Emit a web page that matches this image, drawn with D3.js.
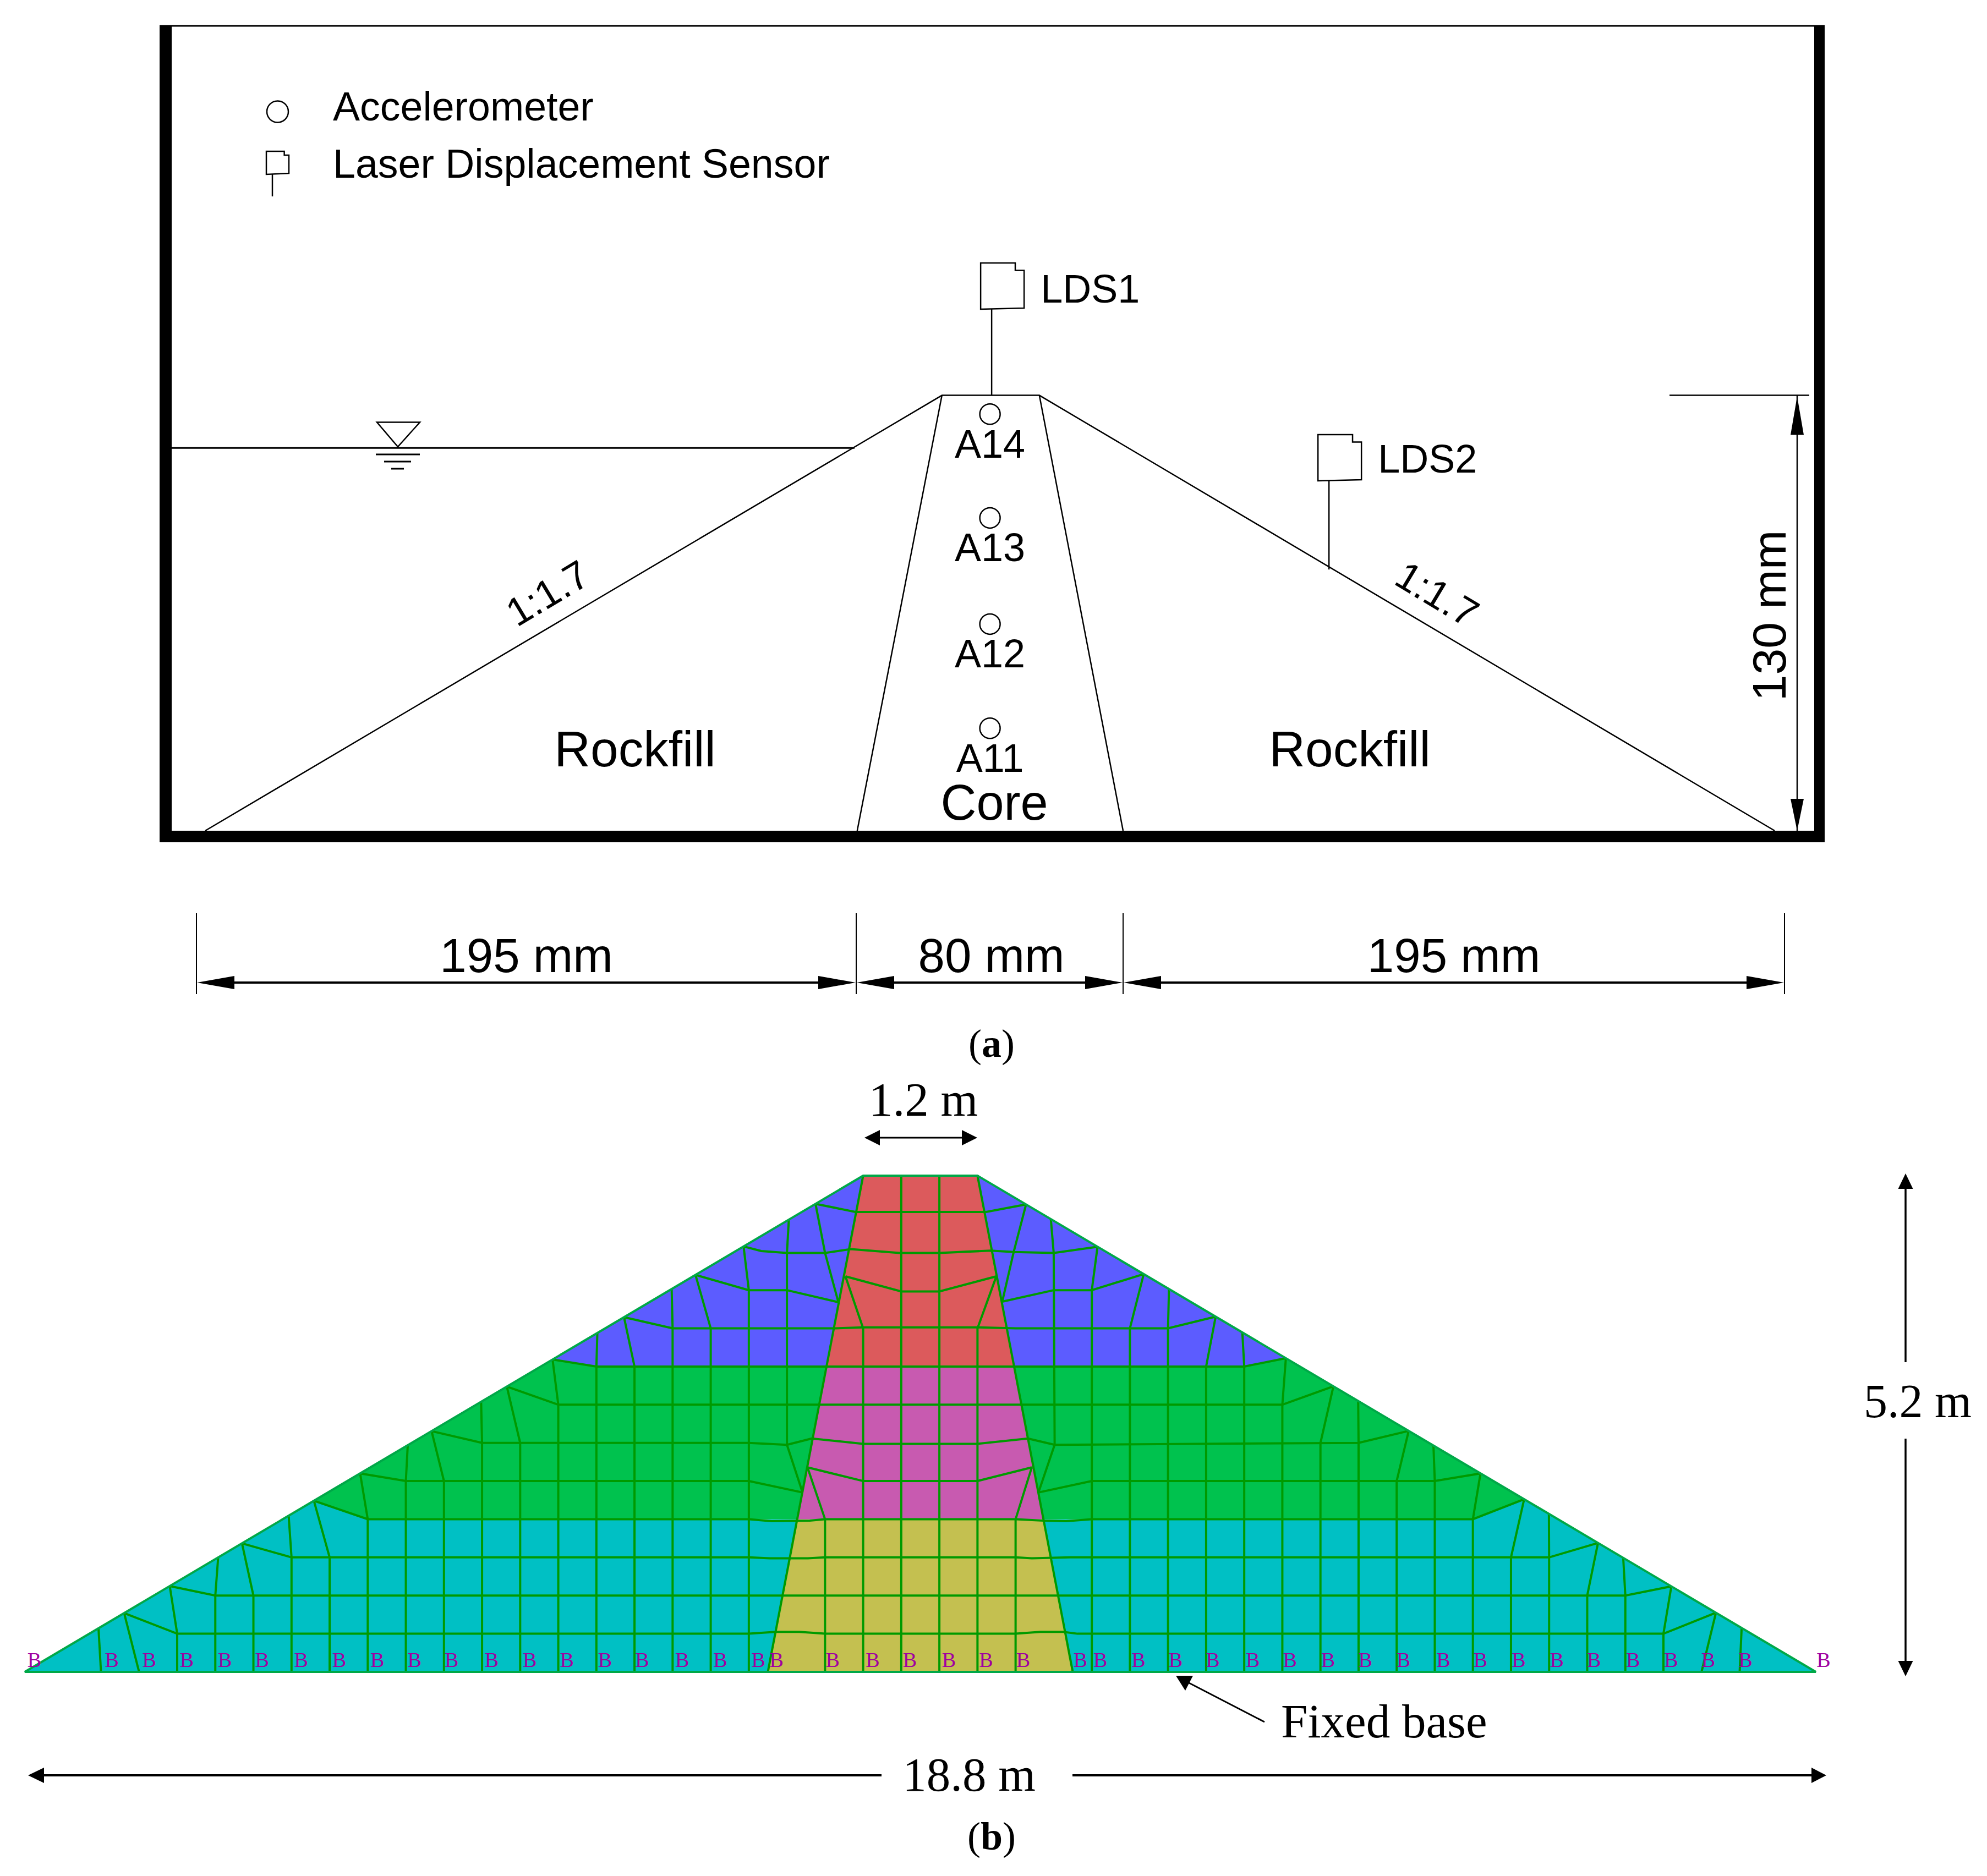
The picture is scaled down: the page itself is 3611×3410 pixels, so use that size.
<!DOCTYPE html>
<html>
<head>
<meta charset="utf-8">
<script src="https://cdn.jsdelivr.net/npm/d3@7"></script>
<style>
  html, body { margin: 0; background: #fff; }
  svg { display: block; }
  .sans { font-family: "Liberation Sans", Arial, sans-serif; fill: #000; }
  .serif { font-family: "Liberation Serif", "Times New Roman", serif; fill: #000; }
</style>
</head>
<body>
<svg id="chart" width="3611" height="3410"></svg>
<script>
// ── Panel (a): physical model, millimetres ──────────────────────────────────
const dimTicks = [0, 195, 275, 470];
const dimLabels = ['195 mm', '80 mm', '195 mm'];
const damHeight = 130;
const crestX = [220.7, 249.9];
const toeX = [2.6, 467.1];
const coreBaseX = [195.3, 275];
const waterLevel = 114.3;
const waterEndX = 194.5;
const accelNames = ['A14', 'A13', 'A12', 'A11'];
const accelX = 235.1;
const accelH = [124.4, 93.4, 61.7, 30.6];
const sensorNames = ['LDS1', 'LDS2'];
const sensorX = [235.6, 335.7];
const sensorFootH = [130, 78];
const legendNames = ['Accelerometer', 'Laser Displacement Sensor'];

// ── Panel (b): numerical mesh, metres ───────────────────────────────────────
const meshWidth = 18.8;
const meshHeight = 5.2;
const crestM = [8.8, 10.0];
const coreBaseM = [7.8, 11.0];

// Columns in the shells: x, height where it leaves the grid, x of slope node
const leftColX = [0.8, 1.2, 1.6, 2.0, 2.4, 2.8, 3.2, 3.6, 4.0, 4.4, 4.8, 5.2, 5.6, 6.0, 6.4, 6.8, 7.2, 7.6, 11.2, 11.6, 12.0, 12.4, 12.8, 13.2, 13.6, 14.0, 14.4, 14.8, 15.2, 15.6, 16.0, 16.4, 16.8, 17.2, 17.6, 18.0];
const colKinkH = [0, 0, 0.4, 0.8, 0.8, 1.2, 1.2, 1.6, 2.0, 2.0, 2.4, 2.4, 2.8, 3.2, 3.2, 3.6, 3.6, 4.0, 4.0, 3.6, 3.6, 3.2, 3.2, 2.8, 2.4, 2.4, 2.0, 2.0, 1.6, 1.2, 1.2, 0.8, 0.8, 0.4, 0, 0];
const colNodeX = [0.774, 1.043, 1.522, 2.03, 2.28, 2.77, 3.035, 3.52, 4.02, 4.27, 4.79, 5.06, 5.54, 6.01, 6.29, 6.79, 7.04, 7.545, 11.26, 11.745, 12.01, 12.5, 12.78, 13.237, 13.736, 13.996, 14.526, 14.786, 15.28, 15.738, 15.998, 16.513, 16.778, 17.283, 17.751, 18.021];

// Interior lines around the core: [x, height]
const innerLines = [
  [[8.0, 2.38], [8.0, 4.39]],
  [[8.164, 1.88], [8.0, 2.38]],
  [[8.4, 0], [8.4, 1.6], [8.216, 2.143]],
  [[8.4, 4.39], [8.54, 3.874]],
  [[8.8, 0], [8.8, 3.6], [8.614, 4.145]],
  [[9.2, 0], [9.2, 5.2]],
  [[9.6, 0], [9.6, 5.2]],
  [[10.0, 0], [10.0, 3.6], [10.198, 4.145]],
  [[10.4, 0], [10.4, 1.6], [10.57, 2.143]],
  [[10.38, 4.4], [10.26, 3.88]],
  [[10.64, 1.88], [10.81, 2.38], [10.8, 4.39]]
];
const slopeTies = [
  [8.02, [8.0, 4.39]],
  [8.3, [8.4, 4.39]],
  [10.51, [10.38, 4.4]],
  [10.77, [10.8, 4.39]]
];

// Rows: x of slope node at each end (null when the row stops inside) and points
const rowLeftNode = [1.043, 1.522, 2.28, 3.035, 3.52, 4.27, 5.06, 5.54, 6.29, 7.04, 7.545, 8.3];
const rowRightNode = [17.751, 17.283, 16.513, 15.738, null, 14.526, 13.736, 13.237, 12.5, null, 11.26, 10.51];
const rowPoints = [
  [[1.6, 0.4], [7.6, 0.4], [7.73, 0.41], [7.88, 0.42], [8.13, 0.42], [8.4, 0.4], [10.4, 0.4], [10.66, 0.42], [10.9, 0.42], [11.05, 0.4], [17.2, 0.4]],
  [[2.0, 0.8], [16.8, 0.8]],
  [[2.8, 1.2], [7.6, 1.2], [7.82, 1.19], [8.22, 1.19], [8.4, 1.2], [10.4, 1.2], [10.57, 1.19], [10.97, 1.2], [16.0, 1.2]],
  [[3.6, 1.6], [7.6, 1.6], [7.84, 1.58], [8.24, 1.585], [8.4, 1.6], [10.4, 1.6], [10.69, 1.585], [10.93, 1.58], [11.2, 1.6], [15.2, 1.6]],
  [[4.0, 2.0], [7.6, 2.0], [8.164, 1.88]],
  [[4.8, 2.4], [7.6, 2.4], [8.0, 2.38], [8.26, 2.446], [8.8, 2.39], [10.0, 2.39], [10.53, 2.446], [10.81, 2.38], [14.0, 2.4]],
  [[5.6, 2.8], [13.2, 2.8]],
  [[6.0, 3.2], [12.8, 3.2]],
  [[6.8, 3.6], [8.5, 3.6], [8.8, 3.61], [10.0, 3.61], [10.4, 3.6], [12.0, 3.6]],
  [[7.6, 4.0], [8.0, 4.0], [8.54, 3.874]],
  [[7.73, 4.41], [8.0, 4.39], [8.4, 4.39], [8.67, 4.43], [9.18, 4.39], [9.6, 4.39], [10.14, 4.415], [10.38, 4.4], [10.8, 4.39]],
  [[8.72, 4.82], [10.09, 4.82]]
];
const extraRows = [
  [[8.216, 2.143], [8.8, 2.0], [10.0, 2.0], [10.57, 2.143]],
  [[10.64, 1.88], [11.2, 2.0], [14.8, 2.0]],
  [[8.614, 4.145], [9.2, 3.987], [9.6, 3.987], [10.198, 4.145]],
  [[10.26, 3.88], [10.8, 4.0], [11.2, 4.0]]
];
const extraRowTies = [[15.28, [14.8, 2.0]], [11.745, [11.2, 4.0]]];

const zoneNames = ['base', 'middle', 'top', 'coreBase', 'coreMiddle', 'coreTop'];
const zoneColors = ['#00c0c4', '#00c24e', '#5c5cff', '#c4c050', '#c85ab0', '#dc5a5c'];
const boundaryLabelX = [0.1, 0.913, 1.306, 1.7, 2.1, 2.49, 2.9, 3.3, 3.7, 4.09, 4.48, 4.9, 5.3, 5.69, 6.09, 6.48, 6.9, 7.3, 7.7, 7.89, 8.48, 8.9, 9.29, 9.7, 10.09, 10.48, 11.08, 11.29, 11.69, 12.08, 12.47, 12.89, 13.28, 13.68, 14.07, 14.47, 14.89, 15.28, 15.68, 16.08, 16.47, 16.88, 17.28, 17.67, 18.06, 18.88];

const svg = d3.select('#chart');

// Scales
const xMm = d3.scaleLinear().domain(dimTicks).range([357, 1556, 2041, 3243]);
const yMm = d3.scaleLinear().domain([0, damHeight]).range([1510, 718.6]);
const xM = d3.scaleLinear().domain([0, meshWidth]).range([45, 3300]);
const yM = d3.scaleLinear().domain([0, meshHeight]).range([3039, 2137]);

const slopeLeft = d3.scaleLinear().domain([0, crestM[0]]).range([0, meshHeight]);
const slopeRight = d3.scaleLinear().domain([crestM[1], meshWidth]).range([meshHeight, 0]);
const coreLeft = d3.scaleLinear().domain([0, meshHeight]).range([coreBaseM[0], crestM[0]]);
const coreRight = d3.scaleLinear().domain([0, meshHeight]).range([coreBaseM[1], crestM[1]]);
const zoneColor = d3.scaleOrdinal().domain(zoneNames).range(zoneColors);

const meshLine = d3.line().x(d => xM(d[0])).y(d => yM(d[1]));
const nodeL = x => [x, slopeLeft(x)];
const nodeR = x => [x, slopeRight(x)];
const node = x => x < 9.4 ? nodeL(x) : nodeR(x);

function arrow(g, tipX, tipY, dx, dy, half) {
  // dx, dy: vector from tip to the base of the head
  const len = Math.hypot(dx, dy);
  const nx = -dy / len * half, ny = dx / len * half;
  g.append('path')
    .attr('d', `M${tipX},${tipY}L${tipX + dx + nx},${tipY + dy + ny}L${tipX + dx - nx},${tipY + dy - ny}Z`)
    .attr('fill', '#000');
}

function hline(g, x1, x2, y, w) {
  g.append('line').attr('x1', x1).attr('x2', x2).attr('y1', y).attr('y2', y)
    .attr('stroke', '#000').attr('stroke-width', w);
}

function vline(g, x, y1, y2, w) {
  g.append('line').attr('x1', x).attr('x2', x).attr('y1', y1).attr('y2', y2)
    .attr('stroke', '#000').attr('stroke-width', w);
}

function sensor(g, x, y, w, h, sw) {
  const n = w * 0.17;
  g.append('path')
    .attr('d', `M${x},${y}H${x + w - n * 1.2}V${y + n}H${x + w}V${y + h - 2}L${x},${y + h}Z`)
    .attr('fill', '#fff').attr('stroke', '#000').attr('stroke-width', sw);
}

function drawPanelA() {
  const g = svg.append('g');

  // Container
  hline(g, 290, 3316, 47, 3);
  g.append('rect').attr('x', 290).attr('y', 46).attr('width', 22).attr('height', 1485).attr('fill', '#000');
  g.append('rect').attr('x', 3297).attr('y', 46).attr('width', 19).attr('height', 1485).attr('fill', '#000');
  g.append('rect').attr('x', 290).attr('y', 1510).attr('width', 3026).attr('height', 21).attr('fill', '#000');

  // Dam outline and core
  const line = d3.line().x(d => xMm(d[0])).y(d => yMm(d[1]));
  const outline = [[toeX[0], 0], [crestX[0], damHeight], [crestX[1], damHeight], [toeX[1], 0]];
  const core = [[coreBaseX[0], 0], [crestX[0], damHeight]];
  const core2 = [[coreBaseX[1], 0], [crestX[1], damHeight]];
  [outline, core, core2].forEach(p => {
    g.append('path').attr('d', line(p)).attr('fill', 'none').attr('stroke', '#000').attr('stroke-width', 2.5);
  });

  // Water level
  hline(g, 312, xMm(waterEndX), yMm(waterLevel), 3);
  g.append('path').attr('d', 'M685,767.5H763L723,812Z').attr('fill', 'none').attr('stroke', '#000').attr('stroke-width', 2.5);
  hline(g, 683, 763, 826, 3);
  hline(g, 698, 747, 839, 3);
  hline(g, 711, 734, 852, 3);

  // Accelerometers
  accelNames.forEach((name, i) => {
    const cy = yMm(accelH[i]);
    g.append('circle').attr('cx', xMm(accelX)).attr('cy', cy).attr('r', 18.5)
      .attr('fill', 'none').attr('stroke', '#000').attr('stroke-width', 2.5);
    g.append('text').attr('class', 'sans').attr('x', xMm(accelX)).attr('y', cy + 79)
      .attr('text-anchor', 'middle').attr('font-size', 72).text(name);
  });

  // Laser sensors
  sensorNames.forEach((name, i) => {
    const sx = xMm(sensorX[i]);
    const top = yMm(sensorFootH[i]);
    const boxTop = i === 0 ? 478 : 790;
    vline(g, sx, boxTop + 84, top, 2.5);
    sensor(g, sx - 20, boxTop, 79, 84, 2.5);
    g.append('text').attr('class', 'sans').attr('x', sx + 89).attr('y', boxTop + 72 - (i === 0 ? 0 : 3))
      .attr('font-size', 72).text(name);
  });

  // Legend
  g.append('circle').attr('cx', 504.5).attr('cy', 203).attr('r', 19.5)
    .attr('fill', 'none').attr('stroke', '#000').attr('stroke-width', 2.5);
  vline(g, 495, 317, 357, 2.5);
  sensor(g, 484, 275, 41, 42, 2.5);
  g.append('text').attr('class', 'sans').attr('x', 605).attr('y', 219).attr('font-size', 73.5).text(legendNames[0]);
  g.append('text').attr('class', 'sans').attr('x', 605).attr('y', 323).attr('font-size', 73.5).text(legendNames[1]);

  // Zone labels
  const label = (x, y, size, text) => g.append('text').attr('class', 'sans')
    .attr('x', x).attr('y', y).attr('text-anchor', 'middle').attr('font-size', size).text(text);
  label(1154, 1393, 91, 'Rockfill');
  label(2453, 1393, 91, 'Rockfill');
  label(1807, 1490, 90, 'Core');

  // Slope ratios
  g.append('text').attr('class', 'sans').attr('text-anchor', 'middle').attr('font-size', 72)
    .attr('transform', 'translate(995,1078) rotate(-31)').attr('dy', '0.35em').text('1:1.7');
  g.append('text').attr('class', 'sans').attr('text-anchor', 'middle').attr('font-size', 72)
    .attr('transform', 'translate(2612,1080) rotate(31)').attr('dy', '0.35em').text('1:1.7');

  // Height dimension
  hline(g, 3034, 3288, yMm(damHeight), 2.5);
  vline(g, 3266, yMm(damHeight), yMm(0), 2.5);
  arrow(g, 3266, yMm(damHeight) + 2, 0, 70, 12);
  arrow(g, 3266, yMm(0), 0, -58, 12);
  g.append('text').attr('class', 'sans').attr('text-anchor', 'middle').attr('font-size', 86)
    .attr('transform', 'translate(3245,1119) rotate(-90)').text('130 mm');

  // Width dimensions
  dimTicks.forEach(t => vline(g, xMm(t), 1660, 1807, 2));
  dimLabels.forEach((text, i) => {
    const x1 = xMm(dimTicks[i]), x2 = xMm(dimTicks[i + 1]);
    hline(g, x1 + 40, x2 - 40, 1786, 4);
    arrow(g, x1 + 1, 1786, 68, 0, 12);
    arrow(g, x2 - 1, 1786, -68, 0, 12);
    g.append('text').attr('class', 'sans').attr('x', (x1 + x2) / 2 + (i === 1 ? 3 : 0)).attr('y', 1767)
      .attr('text-anchor', 'middle').attr('font-size', 87).text(text);
  });

  const cap = g.append('text').attr('class', 'serif').attr('x', 1802).attr('y', 1921)
    .attr('text-anchor', 'middle').attr('font-size', 72);
  cap.append('tspan').text('(');
  cap.append('tspan').attr('font-weight', 'bold').text('a');
  cap.append('tspan').text(')');
}

function drawPanelB() {
  const g = svg.append('g');
  const c = h => [coreLeft(h), h];
  const d = h => [coreRight(h), h];

  // Material zones
  const zones = [
    ['base', [[0, 0], nodeL(3.035), [3.6, 1.6], c(1.6), c(0)]],
    ['middle', [nodeL(3.035), nodeL(5.54), [6.0, 3.2], c(3.2), c(1.6), [3.6, 1.6]]],
    ['top', [nodeL(5.54), [crestM[0], meshHeight], c(3.2), [6.0, 3.2]]],
    ['base', [[meshWidth, 0], nodeR(15.738), [15.2, 1.6], d(1.6), d(0)]],
    ['middle', [nodeR(15.738), nodeR(13.237), [12.8, 3.2], d(3.2), d(1.6), [15.2, 1.6]]],
    ['top', [nodeR(13.237), [crestM[1], meshHeight], d(3.2), [12.8, 3.2]]],
    ['coreBase', [c(0), d(0), d(1.6), c(1.6)]],
    ['coreMiddle', [c(1.6), d(1.6), d(3.2), c(3.2)]],
    ['coreTop', [c(3.2), d(3.2), d(meshHeight), c(meshHeight)]]
  ];
  g.selectAll('path.zone').data(zones).join('path')
    .attr('class', 'zone')
    .attr('d', z => meshLine(z[1]) + 'Z')
    .attr('fill', z => zoneColor(z[0]));

  // Mesh lines
  const lines = [];
  leftColX.forEach((x, i) => {
    const pts = [[x, 0]];
    if (colKinkH[i] > 0) pts.push([x, colKinkH[i]]);
    pts.push(node(colNodeX[i]));
    lines.push(pts);
  });
  innerLines.forEach(p => lines.push(p));
  slopeTies.forEach(t => lines.push([node(t[0]), t[1]]));
  rowPoints.forEach((pts, i) => {
    const right = rowRightNode[i] === null ? [] : [nodeR(rowRightNode[i])];
    lines.push([nodeL(rowLeftNode[i])].concat(pts, right));
  });
  extraRows.forEach(p => lines.push(p));
  extraRowTies.forEach(t => lines.push([node(t[0]), t[1]]));
  // core boundaries
  lines.push([c(0), c(meshHeight)]);
  lines.push([d(0), d(meshHeight)]);

  g.selectAll('path.mesh').data(lines).join('path')
    .attr('class', 'mesh')
    .attr('d', meshLine)
    .attr('fill', 'none')
    .attr('stroke', '#009a00')
    .attr('stroke-width', 4);

  // Outer edge
  const edge = [[0, 0], [crestM[0], meshHeight], [crestM[1], meshHeight], [meshWidth, 0]];
  g.append('path').attr('d', meshLine(edge) + 'Z')
    .attr('fill', 'none').attr('stroke', '#00a848').attr('stroke-width', 4)
    .attr('stroke-linejoin', 'bevel');

  // Fixed-boundary markers
  g.selectAll('text.bc').data(boundaryLabelX).join('text')
    .attr('class', 'bc')
    .attr('x', d => xM(d))
    .attr('y', yM(0) - 9)
    .attr('text-anchor', 'middle')
    .attr('font-family', '"Liberation Serif", serif')
    .attr('font-size', 38)
    .attr('fill', '#a000a0')
    .text('B');

  // Annotations
  const label = (x, y, size, text, anchor) => g.append('text').attr('class', 'serif')
    .attr('x', x).attr('y', y).attr('text-anchor', anchor || 'middle').attr('font-size', size).text(text);

  label(1678, 2028, 87, '1.2 m');
  hline(g, 1590, 1757, 2068, 3);
  arrow(g, 1571, 2068, 28, 0, 14);
  arrow(g, 1776, 2068, -28, 0, 14);

  label(3485, 2576, 86, '5.2 m');
  vline(g, 3463, 2150, 2476, 3.5);
  vline(g, 3463, 2615, 3030, 3.5);
  arrow(g, 3463, 2133, 0, 28, 13.5);
  arrow(g, 3463, 3047, 0, -28, 13.5);

  label(1761, 3255, 87, '18.8 m');
  hline(g, 70, 1602, 3227, 4);
  hline(g, 1949, 3300, 3227, 4);
  arrow(g, 51, 3227, 29, 0, 14);
  arrow(g, 3319, 3227, -27, 0, 14);

  label(2328, 3158, 87, 'Fixed base', 'start');
  g.append('line').attr('x1', 2155).attr('y1', 3056).attr('x2', 2298).attr('y2', 3130)
    .attr('stroke', '#000').attr('stroke-width', 3);
  g.append('path').attr('d', 'M2137,3046L2168,3046L2154,3073Z').attr('fill', '#000');

  const cap = g.append('text').attr('class', 'serif').attr('x', 1802).attr('y', 3362)
    .attr('text-anchor', 'middle').attr('font-size', 72);
  cap.append('tspan').text('(');
  cap.append('tspan').attr('font-weight', 'bold').text('b');
  cap.append('tspan').text(')');
}

drawPanelA();
drawPanelB();
</script>
</body>
</html>
